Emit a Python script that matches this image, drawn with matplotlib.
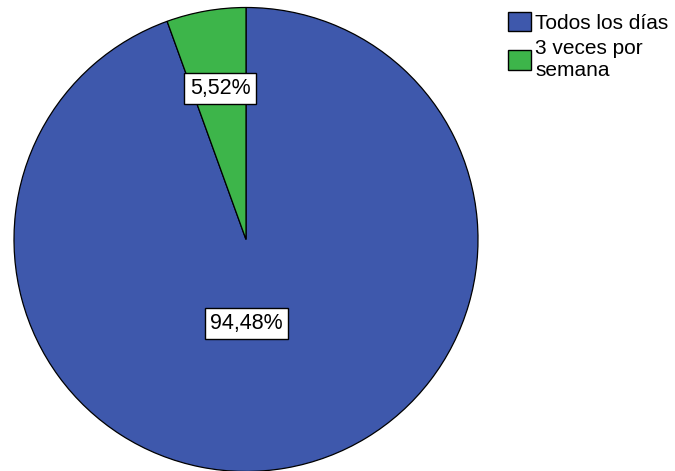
import matplotlib
matplotlib.use("Agg")
import matplotlib.pyplot as plt
from matplotlib.patches import Patch

plt.rcParams['font.family'] = ['Liberation Sans', 'DejaVu Sans']

categorias = ["Todos los días", "3 veces por\nsemana"]
porcentajes = [94.48, 5.52]
colores = ["#3E58AC", "#3DB54A"]

# posiciones de las etiquetas dentro de cada sector
pos_etiquetas = [(0.002, -0.362), (-0.112, 0.651)]


def fmt(v):
    return ("%.2f%%" % v).replace(".", ",")


fig = plt.figure(figsize=(6.75, 4.71), dpi=100)
ax = fig.add_axes([14 / 675, -0.5 / 471, 464 / 675, 464 / 471])

# el sector pequeño termina en las 12 en punto
inicio = 90 + porcentajes[1] / 100 * 360
wedges, textos = ax.pie(porcentajes, colors=colores, startangle=inicio,
                        counterclock=True, radius=1,
                        wedgeprops=dict(edgecolor="black", linewidth=0.9))
for w, v, p in zip(wedges, porcentajes, pos_etiquetas):
    ax.text(p[0], p[1], fmt(v), ha="center", va="center", fontsize=15.5,
            bbox=dict(boxstyle="square,pad=0.25", facecolor="white",
                      edgecolor="black", linewidth=1.0))
ax.set_xlim(-1, 1)
ax.set_ylim(-1, 1)
ax.set_aspect("equal")
ax.axis("off")

handles = [Patch(facecolor=c, edgecolor="black", linewidth=1.0) for c in colores]
fig.legend(handles, categorias, loc="upper left",
           bbox_to_anchor=(508 / 675, 1 - 12 / 471), frameon=False,
           fontsize=15, handlelength=1.1, handleheight=1.05,
           handletextpad=0.2, labelspacing=0.3, borderaxespad=0,
           borderpad=0)

fig.savefig("out.png", dpi=100)
